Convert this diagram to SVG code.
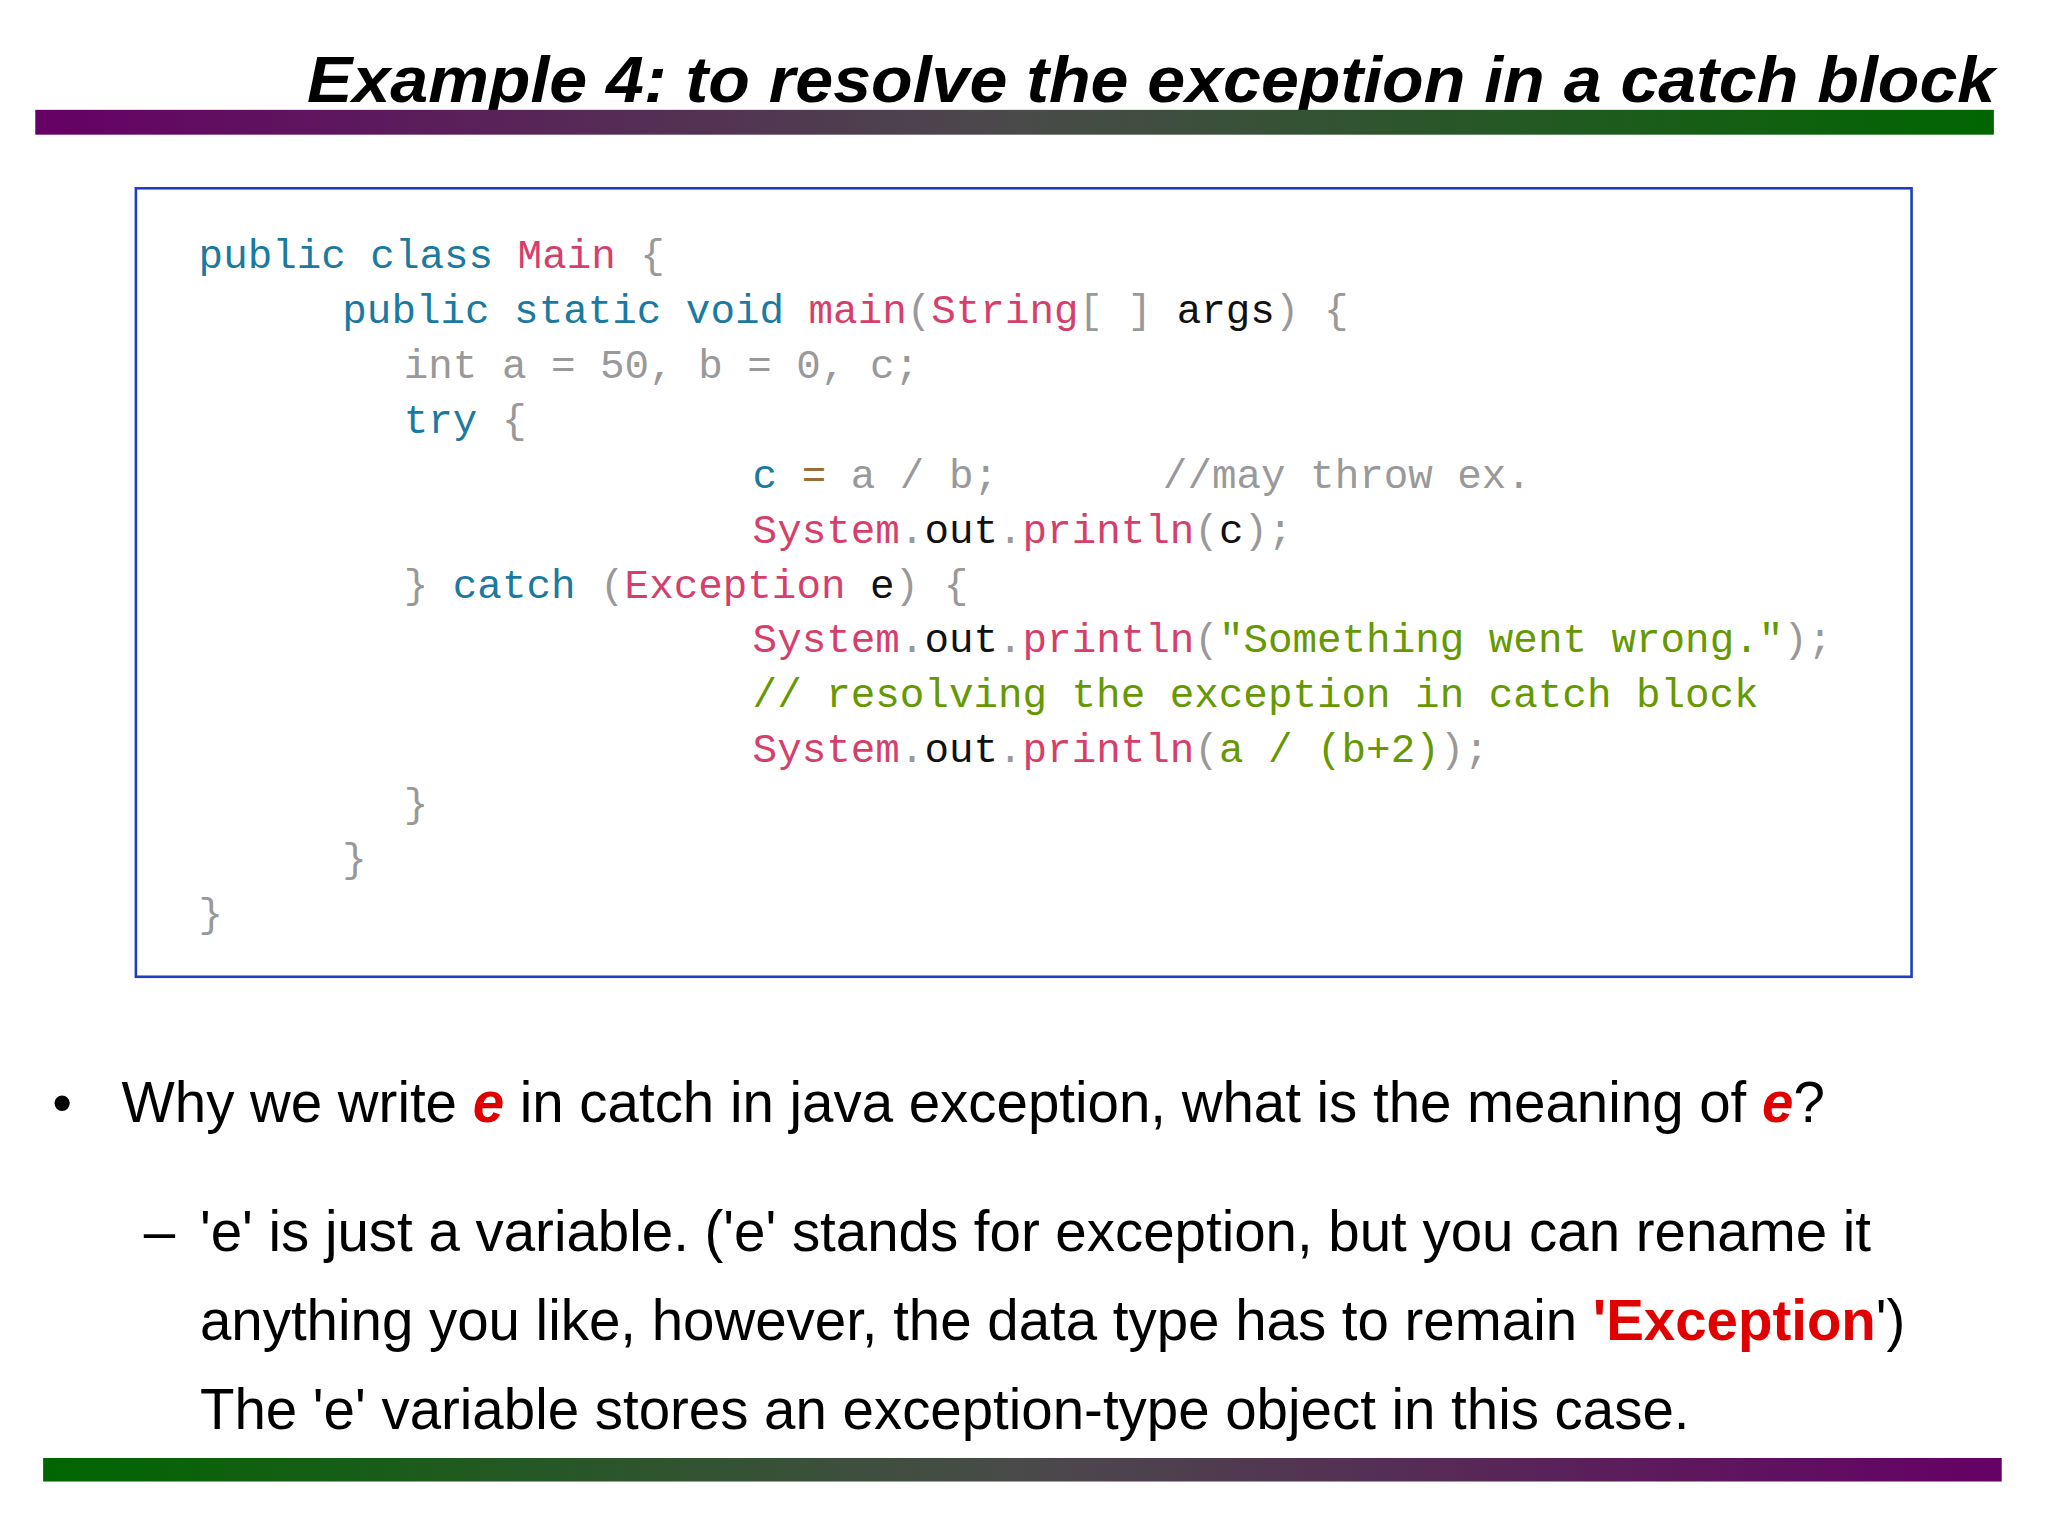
<svg xmlns="http://www.w3.org/2000/svg" width="2048" height="1536" viewBox="0 0 2048 1536">
<defs>
<linearGradient id="g1" x1="0" x2="1"><stop offset="0" stop-color="#660066"/><stop offset="0.5" stop-color="#4a4a4a"/><stop offset="1" stop-color="#006600"/></linearGradient>
<linearGradient id="g2" x1="0" x2="1"><stop offset="0" stop-color="#006600"/><stop offset="0.5" stop-color="#4a4a4a"/><stop offset="1" stop-color="#660066"/></linearGradient>
<style>
.code{font-family:"Liberation Mono","DejaVu Sans Mono",monospace;font-size:31.3px;fill:#999}
.k{fill:#1a7aa0}.p{fill:#d63f6b}.b{fill:#111}.g{fill:#669900}.o{fill:#9a6e3a}
.t{font-family:"Liberation Sans",Arial,sans-serif;font-size:43.2px;fill:#000}
.r{fill:#e00000;font-weight:bold}
</style>
</defs>
<rect width="2048" height="1536" fill="#fff"/>
<g transform="scale(1.3066,1.3076)">
<g id="title">
<text x="1527" y="78" text-anchor="end" font-family="Liberation Sans,Arial,sans-serif" font-weight="bold" font-style="italic" font-size="50" fill="#000" textLength="1292" lengthAdjust="spacingAndGlyphs">Example 4: to resolve the exception in a catch block</text>
<rect x="27" y="84" width="1499" height="19" fill="url(#g1)"/>
</g>
<g id="codebox">
<rect x="104" y="144" width="1359" height="603" fill="#fff" stroke="#1f3fbf" stroke-width="2"/>
<text class="code" x="152" y="205"><tspan class="k">public class </tspan><tspan class="p">Main</tspan> {</text>
<text class="code" x="262" y="247"><tspan class="k">public static void </tspan><tspan class="p">main</tspan>(<tspan class="p">String</tspan>[ ] <tspan class="b">args</tspan>) {</text>
<text class="code" x="309" y="289">int a = 50, b = 0, c;</text>
<text class="code" x="309" y="331"><tspan class="k">try</tspan> {</text>
<text class="code" x="576" y="373"><tspan class="k">c</tspan> <tspan class="o">=</tspan> a / b;</text>
<text class="code" x="890" y="373">//may throw ex.</text>
<text class="code" x="576" y="415"><tspan class="p">System</tspan>.<tspan class="b">out</tspan>.<tspan class="p">println</tspan>(<tspan class="b">c</tspan>);</text>
<text class="code" x="309" y="457">} <tspan class="k">catch</tspan> (<tspan class="p">Exception</tspan> <tspan class="b">e</tspan>) {</text>
<text class="code" x="576" y="499"><tspan class="p">System</tspan>.<tspan class="b">out</tspan>.<tspan class="p">println</tspan>(<tspan class="g">"Something went wrong."</tspan>);</text>
<text class="code g" x="576" y="541">// resolving the exception in catch block</text>
<text class="code" x="576" y="583"><tspan class="p">System</tspan>.<tspan class="b">out</tspan>.<tspan class="p">println</tspan>(<tspan class="g">a / (b+2)</tspan>);</text>
<text class="code" x="309" y="625">}</text>
<text class="code" x="262" y="667">}</text>
<text class="code" x="152" y="709">}</text>
</g>
<g id="bullets">
<text class="t" x="40" y="858">•</text>
<text class="t" x="93" y="858">Why we write <tspan class="r" font-style="italic">e</tspan> in catch in java exception, what is the meaning of <tspan class="r" font-style="italic">e</tspan>?</text>
<text class="t" x="110" y="957">–</text>
<text class="t" x="153" y="957">'e' is just a variable. ('e' stands for exception, but you can rename it</text>
<text class="t" x="153" y="1025">anything you like, however, the data type has to remain <tspan class="r">'Exception</tspan>')</text>
<text class="t" x="153" y="1093">The 'e' variable stores an exception-type object in this case.</text>
</g>
<rect id="bottombar" x="33" y="1115" width="1499" height="18" fill="url(#g2)"/>
</g>
</svg>
